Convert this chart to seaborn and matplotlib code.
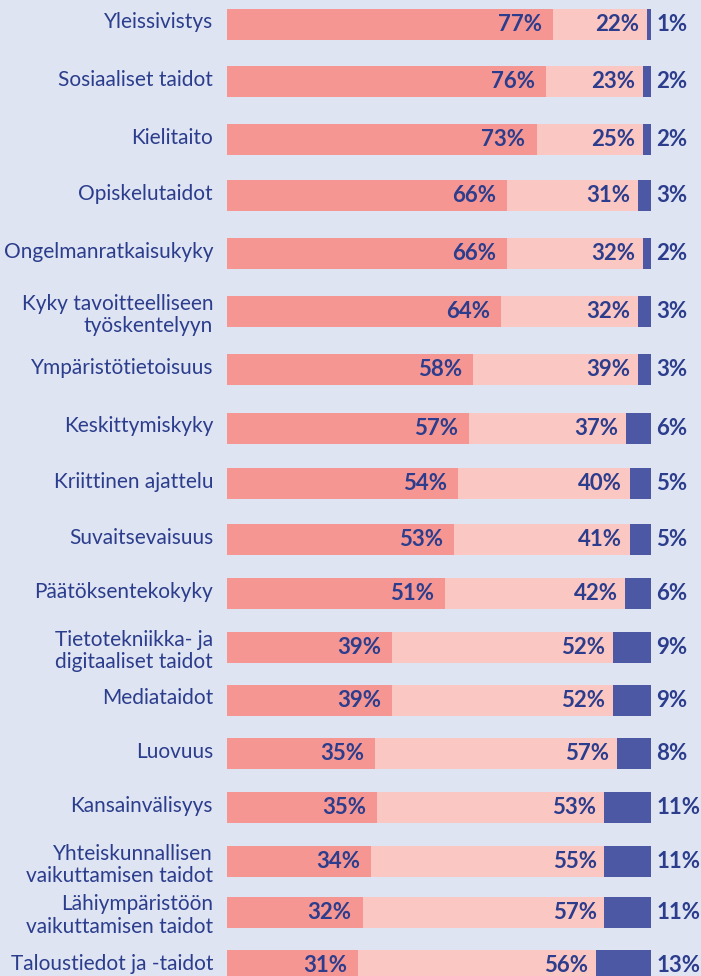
import pandas as pd
import numpy as np
import seaborn as sns
import matplotlib.pyplot as plt
import matplotlib.transforms as mtransforms

# data
skills = ["Yleissivistys", "Sosiaaliset taidot", "Kielitaito", "Opiskelutaidot",
          "Ongelmanratkaisukyky", "Kyky tavoitteelliseen\ntyöskentelyyn",
          "Ympäristötietoisuus", "Keskittymiskyky", "Kriittinen ajattelu",
          "Suvaitsevaisuus", "Päätöksentekokyky", "Tietotekniikka- ja\ndigitaaliset taidot",
          "Mediataidot", "Luovuus", "Kansainvälisyys",
          "Yhteiskunnallisen\nvaikuttamisen taidot", "Lähiympäristöön\nvaikuttamisen taidot",
          "Taloustiedot ja -taidot"]
paljon = [77, 76, 73, 66, 66, 64, 58, 57, 54, 53, 51, 39, 39, 35, 35, 34, 32, 31]
jonkin = [22, 23, 25, 31, 32, 32, 39, 37, 40, 41, 42, 52, 52, 57, 53, 55, 57, 56]
vahan = [1, 2, 2, 3, 2, 3, 3, 6, 5, 5, 6, 9, 9, 8, 11, 11, 11, 13]

# layout: row centres in pixels (rows are not evenly spaced in the original)
row_y = [24.5, 81.5, 139.5, 195.5, 253.5, 311.5, 369.5, 428.5, 483.5, 539.5,
         593.5, 647.5, 700.5, 753.5, 807.5, 861.5, 912.5, 965.5]
bar_h = 31

df = pd.DataFrame({"skill": skills, "a": paljon, "b": jonkin, "c": vahan, "y": row_y})
total = df["a"] + df["b"] + df["c"]
df["end1"] = df["a"] * 100 / total
df["end2"] = (df["a"] + df["b"]) * 100 / total
df["end3"] = 100.0

bg = "#dfe4f2"
c1, c2, c3 = "#f59693", "#fbc7c3", "#4c58a3"
txt = "#2b3d8c"

sns.set_theme(style="white", rc={"axes.facecolor": bg, "figure.facecolor": bg})
plt.rcParams["font.family"] = ["Lato", "DejaVu Sans"]

fig = plt.figure(figsize=(7.01, 9.76), dpi=100)
ax = fig.add_axes([227 / 701, 0, 424 / 701, 1])

w = bar_h / np.diff(row_y).min()
for col, c in [("end3", c3), ("end2", c2), ("end1", c1)]:
    sns.barplot(data=df, x=col, y="y", color=c, width=w, orient="h", native_scale=True,
                ax=ax, saturation=1, linewidth=0, edgecolor="none")

ax.set_xlim(0, 100)
ax.set_ylim(976, 0)
ax.set_xlabel("")
ax.set_ylabel("")
ax.set_xticks([])
ax.set_yticks(row_y)
ax.set_yticklabels(skills)
ax.tick_params(axis="y", length=0, pad=10)
# single-line labels sit a little above the bar centre in the original
lift = mtransforms.ScaledTranslation(0, 0.04, fig.dpi_scale_trans)
for lab in ax.get_yticklabels():
    lab.set_fontsize(15)
    lab.set_color(txt)
    lab.set_linespacing(1.15)
    if "\n" not in lab.get_text():
        lab.set_transform(lab.get_transform() + lift)
for s in ax.spines.values():
    s.set_visible(False)

for _, r in df.iterrows():
    ax.text(r["end1"] - 2.6, r["y"], f"{r['a']}%", ha="right", va="center",
            fontsize=16, fontweight="bold", color=txt)
    ax.text(r["end2"] - 1.8, r["y"], f"{r['b']}%", ha="right", va="center",
            fontsize=16, fontweight="bold", color=txt)
    ax.text(101.3, r["y"], f"{r['c']}%", ha="left", va="center",
            fontsize=16, fontweight="bold", color=txt, clip_on=False)

fig.savefig("out.png", dpi=100, facecolor=bg)
